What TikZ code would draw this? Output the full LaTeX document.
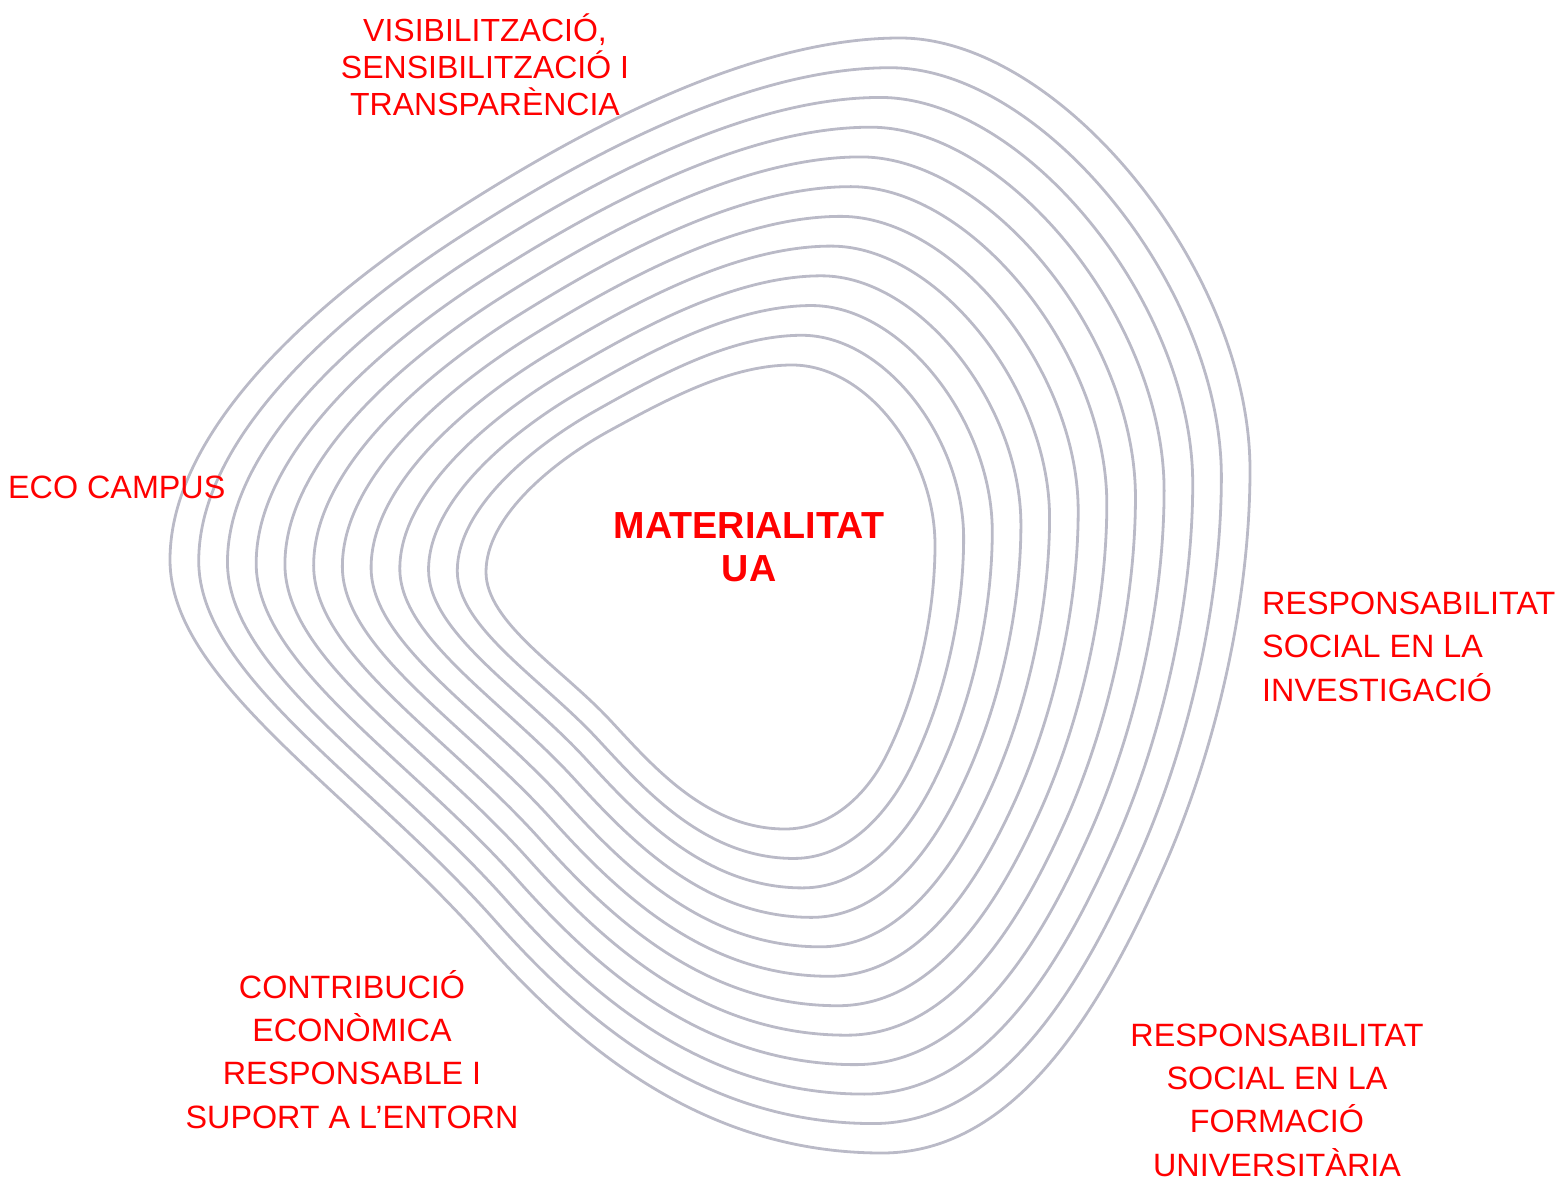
\documentclass[tikz,border=0pt]{standalone}
\usepackage{fontspec}
\setmainfont{Liberation Sans}
\definecolor{ringgray}{RGB}{186,186,199}
\definecolor{labred}{RGB}{255,0,0}
\tikzset{
  ring/.style={draw=ringgray, line width=2.8pt},
  lab/.style={text=labred, inner sep=0pt, anchor=base},
  labfont/.style={font=\fontsize{32.3}{43.3}\selectfont},
  topfont/.style={font=\fontsize{32}{37}\selectfont},
  centrefont/.style={font=\fontsize{37.7}{43}\selectfont\bfseries},
}
\def\segA{}
\def\segB{..}
\def\segC{.. controls}
\def\segD{and}
% outer x / outer y / inner x / inner y / path connector
\def\ringpairs{
 900/38/792/365/\segA, 1060/38/867/365/\segC, 1250/270/935/455/\segD,
 1250/470/935/545/\segB, 1250/600/935/615/\segC, 1216.5/748/917.5/693.5/\segD,
 1164/867/886/756/\segB, 1107/995/865.75/796.2/\segC, 1022/1153/830/829/\segD,
 882/1153/785/829/\segB, 702/1153/705/829/\segC, 576/1045/650/762.7/\segD,
 483/940/609/719/\segB, 350/790/561.1/668/\segC, 170/680/486/622/\segD,
 170/560/486/572/\segB, 170/430/486/517/\segC, 315.4/302.2/552/462.3/\segD,
 441/220/609/431/\segB, 575/132.3/670.4/397.3/\segC, 750/38/732/365/\segD}
\begin{document}
\begin{tikzpicture}[x=1pt,y=-1pt]
\path[use as bounding box] (0,0) rectangle (1560,1180);
\foreach \k in {0,...,11}{
  \pgfmathsetmacro\tfrac{\k/11}
  \gdef\ringpts{}
  \foreach \ox/\oy/\ix/\iy/\pre in \ringpairs{
    \pgfmathsetmacro\px{\ix+\tfrac*(\ox-\ix)}
    \pgfmathsetmacro\py{\iy+\tfrac*(\oy-\iy)}
    \xdef\ringpts{\ringpts\space\pre\space(\px,\py)}
  }
  \edef\ringcmd{\noexpand\draw[ring] \ringpts\space .. cycle;}
  \ringcmd
}
\node[lab, topfont, align=center] (vis) at (485,116)
  {VISIBILITZACIÓ,\\SENSIBILITZACIÓ I\\TRANSPARÈNCIA};
\node[lab, labfont, anchor=base west] (eco) at (8,498) {ECO CAMPUS};
\node[lab, centrefont, align=center] (mat) at (749,581) {MATERIALITAT\\UA};
\node[lab, labfont, align=left, anchor=base west] (inv) at (1262,701)
  {RESPONSABILITAT\\SOCIAL EN LA\\INVESTIGACIÓ};
\node[lab, labfont, align=center] (form) at (1277,1176)
  {RESPONSABILITAT\\SOCIAL EN LA\\FORMACIÓ\\UNIVERSITÀRIA};
\node[lab, labfont, align=center] (contrib) at (352,1128)
  {CONTRIBUCIÓ\\ECONÒMICA\\RESPONSABLE I\\SUPORT A L’ENTORN};
\end{tikzpicture}
\end{document}
